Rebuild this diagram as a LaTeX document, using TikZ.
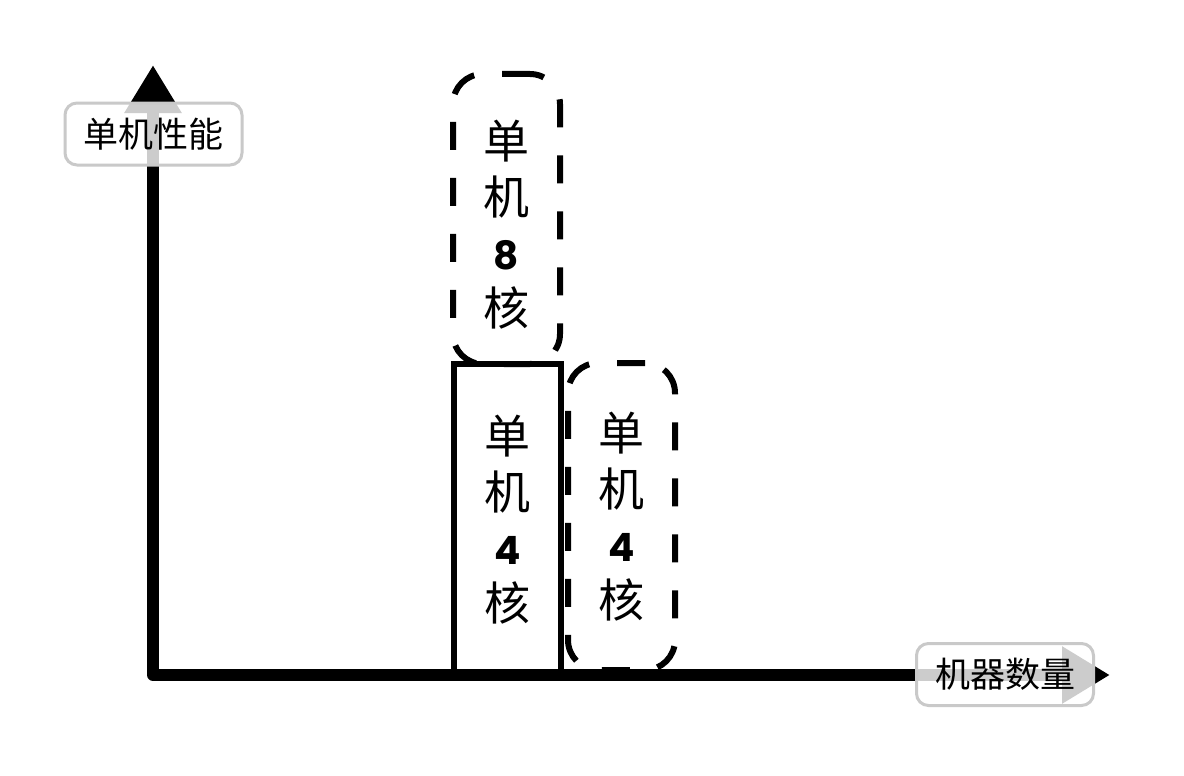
\documentclass[tikz,border=0pt]{standalone}
\usepackage{fontspec}
\newfontfamily\cjk{Noto Sans CJK SC}
\newfontfamily\digitfont{Poppins}
\usetikzlibrary{arrows.meta}
\tikzset{
  axisline/.style={line width=12pt, line cap=round, line join=round,
    {Triangle[length=48pt,width=54pt]}-{Triangle[length=48pt,width=54pt]}},
  axislabel/.style={draw=black!21, line width=3pt, rounded corners=12pt,
    fill=white, fill opacity=0.8, text opacity=1, draw opacity=1,
    minimum width=177pt, minimum height=62pt, inner sep=0pt,
    font=\cjk\fontsize{35}{40}\selectfont},
  corebox/.style={line width=6pt, minimum width=107pt, inner sep=0pt,
    align=center, font=\cjk\fontsize{46}{55.5}\selectfont},
  solidbox/.style={corebox, draw},
  dashbox/.style={corebox, draw, rounded corners=30pt,
    dash pattern=on 28pt off 28pt},
}
\newcommand{\dg}[1]{{\digitfont\bfseries\fontsize{39}{55.5}\selectfont #1}}
\begin{document}
\begin{tikzpicture}[x=1pt,y=-1pt]
\useasboundingbox (0,0) rectangle (1184,776);
\fill[white] (0,0) rectangle (1184,776);
\coordinate (O) at (153,675);
\coordinate (Ytip) at (153,65);
\coordinate (Xtip) at (1110,675);
\draw[axisline] (Ytip) -- (O) -- (Xtip);
\node[axislabel] (ylab) at (153.5,134) {单机性能};
\node[axislabel] (xlab) at (1005,674.5) {机器数量};
\node[solidbox, minimum height=311pt] (s4) at (507.5,519.5) {单\\机\\\dg{4}\\核};
\node[dashbox, minimum height=290pt] (d8) at (506.5,219) {\\[-6pt]单\\机\\\dg{8}\\核};
\node[dashbox, minimum height=307pt] (d4) at (621.5,516.5) {单\\机\\\dg{4}\\核};
\end{tikzpicture}
\end{document}
